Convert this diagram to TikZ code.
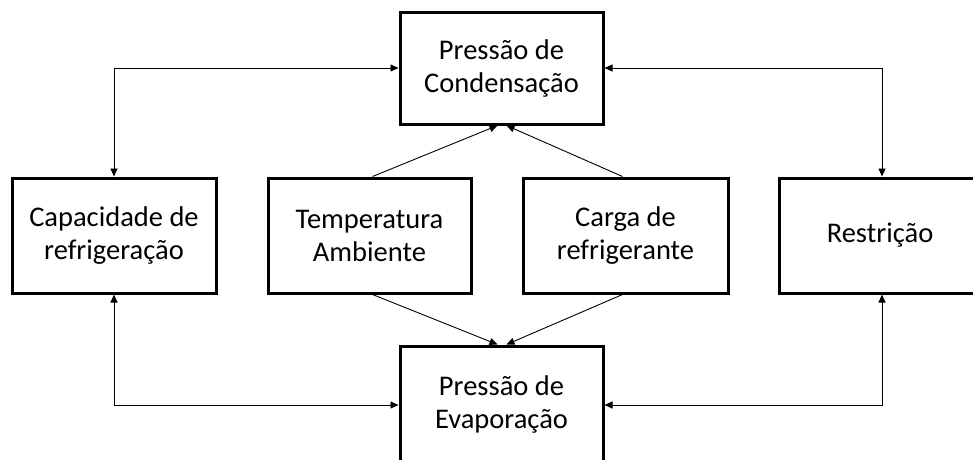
\documentclass[tikz,border=0pt]{standalone}
\usepackage{fontspec}
\setmainfont{Carlito}
\usetikzlibrary{arrows.meta}
\begin{document}
\begin{tikzpicture}[x=1pt,y=-1pt,
  box/.style={draw=black,line width=3pt,minimum height=113pt,align=center,
    font=\fontsize{28.5}{33}\selectfont,inner sep=0pt},
  conn/.style={line width=0.9pt,{Triangle[length=8pt,width=7pt]}-{Triangle[length=8pt,width=7pt]}},
  one/.style={line width=0.9pt,-{Triangle[length=8pt,width=7pt]}}]
\clip (0,0) rectangle (973,459);
\fill[white] (0,0) rectangle (973,459);
\node[box,minimum width=203pt,minimum height=112pt] (T) at (501.5,68) {Pressão de\\Condensação};
\node[box,minimum width=204pt,minimum height=115pt] (L) at (114,235.5) {Capacidade de\\refrigeração};
\node[box,minimum width=203pt,minimum height=115pt] (M) at (369.5,235.5) {Temperatura\\Ambiente};
\node[box,minimum width=205pt,minimum height=115pt] (C) at (625.5,235.5) {Carga de\\refrigerante};
\node[box,minimum width=210pt,minimum height=115pt] (R) at (884,235.5) {\hspace*{-8pt}Restrição};
\node[box,minimum width=203pt,minimum height=116pt] (B) at (501.5,404) {Pressão de\\Evaporação};
\draw[conn] (L.north) |- (T.west);
\draw[conn] ([xshift=-2pt]R.north) |- (T.east);
\draw[conn] (L.south) |- ([yshift=-1pt]B.west);
\draw[conn] ([xshift=-2pt]R.south) |- ([yshift=-1pt]B.east);
\draw[one] ([xshift=3pt]M.north) -- ([xshift=-4pt]T.south);
\draw[one] ([xshift=-3pt]C.north) -- ([xshift=5pt]T.south);
\draw[one] ([xshift=3pt]M.south) -- ([xshift=-4pt]B.north);
\draw[one] ([xshift=-3pt]C.south) -- ([xshift=5pt]B.north);
\end{tikzpicture}
\end{document}
